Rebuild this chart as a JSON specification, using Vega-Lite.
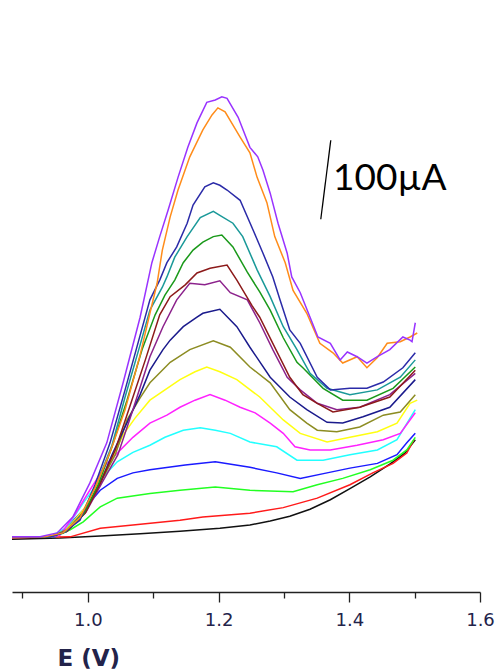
{
"$schema":"https://vega.github.io/schema/vega-lite/v6.json",
"width":468,"height":572,
"autosize":{"type":"none"},
"padding":{"left":12,"top":20,"right":17,"bottom":78},
"background":"white",
"config":{"view":{"stroke":null}},
"layer":[
{"data":{"values":[
{"s":"s01","E":0.884,"I":1},{"s":"s01","E":0.957,"I":2.5},{"s":"s01","E":1.019,"I":5},{"s":"s01","E":1.080,"I":8},{"s":"s01","E":1.141,"I":11},{"s":"s01","E":1.202,"I":15},{"s":"s01","E":1.248,"I":19},{"s":"s01","E":1.279,"I":24},{"s":"s01","E":1.309,"I":30},{"s":"s01","E":1.340,"I":39},{"s":"s01","E":1.371,"I":51},{"s":"s01","E":1.401,"I":65},{"s":"s01","E":1.432,"I":80},{"s":"s01","E":1.462,"I":96},{"s":"s01","E":1.485,"I":110},{"s":"s01","E":1.501,"I":127},
{"s":"s02","E":0.884,"I":3},{"s":"s02","E":0.973,"I":4},{"s":"s02","E":1.019,"I":15},{"s":"s02","E":1.069,"I":19},{"s":"s02","E":1.141,"I":25},{"s":"s02","E":1.176,"I":29},{"s":"s02","E":1.248,"I":34},{"s":"s02","E":1.299,"I":41},{"s":"s02","E":1.351,"I":53},{"s":"s02","E":1.401,"I":70},{"s":"s02","E":1.436,"I":85},{"s":"s02","E":1.467,"I":97},{"s":"s02","E":1.488,"I":110},{"s":"s02","E":1.499,"I":127},
{"s":"s03","E":0.884,"I":4},{"s":"s03","E":0.950,"I":4},{"s":"s03","E":0.973,"I":13},{"s":"s03","E":0.993,"I":23},{"s":"s03","E":1.019,"I":42},{"s":"s03","E":1.045,"I":53},{"s":"s03","E":1.095,"I":59},{"s":"s03","E":1.141,"I":63},{"s":"s03","E":1.195,"I":67},{"s":"s03","E":1.248,"I":63},{"s":"s03","E":1.314,"I":61},{"s":"s03","E":1.351,"I":70},{"s":"s03","E":1.390,"I":78},{"s":"s03","E":1.432,"I":89},{"s":"s03","E":1.467,"I":101},{"s":"s03","E":1.488,"I":114},{"s":"s03","E":1.501,"I":130},
{"s":"s04","E":0.884,"I":4},{"s":"s04","E":0.950,"I":4},{"s":"s04","E":0.968,"I":16},{"s":"s04","E":0.993,"I":38},{"s":"s04","E":1.019,"I":63},{"s":"s04","E":1.045,"I":78},{"s":"s04","E":1.069,"I":85},{"s":"s04","E":1.095,"I":89},{"s":"s04","E":1.149,"I":95},{"s":"s04","E":1.195,"I":99},{"s":"s04","E":1.248,"I":92},{"s":"s04","E":1.289,"I":85},{"s":"s04","E":1.325,"I":78},{"s":"s04","E":1.366,"I":85},{"s":"s04","E":1.401,"I":91},{"s":"s04","E":1.443,"I":97},{"s":"s04","E":1.473,"I":108},{"s":"s04","E":1.488,"I":123},{"s":"s04","E":1.501,"I":135},
{"s":"s05","E":0.884,"I":4},{"s":"s05","E":0.942,"I":4},{"s":"s05","E":0.968,"I":16},{"s":"s05","E":0.993,"I":47},{"s":"s05","E":1.019,"I":76},{"s":"s05","E":1.045,"I":99},{"s":"s05","E":1.069,"I":111},{"s":"s05","E":1.095,"I":120},{"s":"s05","E":1.118,"I":130},{"s":"s05","E":1.146,"I":139},{"s":"s05","E":1.172,"I":142},{"s":"s05","E":1.195,"I":139},{"s":"s05","E":1.218,"I":135},{"s":"s05","E":1.248,"I":124},{"s":"s05","E":1.289,"I":118},{"s":"s05","E":1.320,"I":101},{"s":"s05","E":1.360,"I":101},{"s":"s05","E":1.401,"I":108},{"s":"s05","E":1.443,"I":114},{"s":"s05","E":1.473,"I":127},{"s":"s05","E":1.501,"I":165},
{"s":"s06","E":0.884,"I":4},{"s":"s06","E":0.942,"I":4},{"s":"s06","E":0.957,"I":6},{"s":"s06","E":0.980,"I":32},{"s":"s06","E":1.003,"I":63},{"s":"s06","E":1.029,"I":97},{"s":"s06","E":1.045,"I":110},{"s":"s06","E":1.069,"I":130},{"s":"s06","E":1.095,"I":148},{"s":"s06","E":1.121,"I":158},{"s":"s06","E":1.141,"I":168},{"s":"s06","E":1.164,"I":177},{"s":"s06","E":1.187,"I":184},{"s":"s06","E":1.210,"I":177},{"s":"s06","E":1.233,"I":168},{"s":"s06","E":1.256,"I":161},{"s":"s06","E":1.279,"I":148},{"s":"s06","E":1.299,"I":135},{"s":"s06","E":1.317,"I":118},{"s":"s06","E":1.340,"I":114},{"s":"s06","E":1.371,"I":114},{"s":"s06","E":1.412,"I":120},{"s":"s06","E":1.452,"I":127},{"s":"s06","E":1.478,"I":135},{"s":"s06","E":1.501,"I":161},
{"s":"s07","E":0.884,"I":4},{"s":"s07","E":0.942,"I":4},{"s":"s07","E":0.965,"I":11},{"s":"s07","E":0.993,"I":38},{"s":"s07","E":1.014,"I":70},{"s":"s07","E":1.034,"I":99},{"s":"s07","E":1.054,"I":133},{"s":"s07","E":1.072,"I":154},{"s":"s07","E":1.095,"I":177},{"s":"s07","E":1.118,"I":190},{"s":"s07","E":1.141,"I":203},{"s":"s07","E":1.164,"I":213},{"s":"s07","E":1.182,"I":219},{"s":"s07","E":1.202,"I":213},{"s":"s07","E":1.228,"I":203},{"s":"s07","E":1.263,"I":181},{"s":"s07","E":1.299,"I":152},{"s":"s07","E":1.325,"I":135},{"s":"s07","E":1.366,"I":124},{"s":"s07","E":1.401,"I":130},{"s":"s07","E":1.443,"I":137},{"s":"s07","E":1.473,"I":148},{"s":"s07","E":1.493,"I":173},{"s":"s07","E":1.504,"I":177},
{"s":"s08","E":0.884,"I":4},{"s":"s08","E":0.942,"I":4},{"s":"s08","E":0.968,"I":13},{"s":"s08","E":0.996,"I":38},{"s":"s08","E":1.019,"I":72},{"s":"s08","E":1.042,"I":108},{"s":"s08","E":1.060,"I":152},{"s":"s08","E":1.080,"I":180},{"s":"s08","E":1.095,"I":199},{"s":"s08","E":1.126,"I":225},{"s":"s08","E":1.156,"I":241},{"s":"s08","E":1.192,"I":252},{"s":"s08","E":1.218,"I":244},{"s":"s08","E":1.248,"I":219},{"s":"s08","E":1.279,"I":199},{"s":"s08","E":1.309,"I":165},{"s":"s08","E":1.335,"I":148},{"s":"s08","E":1.351,"I":139},{"s":"s08","E":1.381,"I":137},{"s":"s08","E":1.416,"I":143},{"s":"s08","E":1.452,"I":158},{"s":"s08","E":1.478,"I":162},{"s":"s08","E":1.501,"I":184},
{"s":"s09","E":0.884,"I":4},{"s":"s09","E":0.942,"I":4},{"s":"s09","E":0.968,"I":11},{"s":"s09","E":0.997,"I":38},{"s":"s09","E":1.019,"I":72},{"s":"s09","E":1.037,"I":108},{"s":"s09","E":1.062,"I":152},{"s":"s09","E":1.080,"I":184},{"s":"s09","E":1.095,"I":215},{"s":"s09","E":1.115,"I":241},{"s":"s09","E":1.126,"I":253},{"s":"s09","E":1.146,"I":270},{"s":"s09","E":1.167,"I":282},{"s":"s09","E":1.176,"I":287},{"s":"s09","E":1.202,"I":292},{"s":"s09","E":1.228,"I":270},{"s":"s09","E":1.248,"I":244},{"s":"s09","E":1.279,"I":206},{"s":"s09","E":1.309,"I":181},{"s":"s09","E":1.335,"I":165},{"s":"s09","E":1.366,"I":149},{"s":"s09","E":1.390,"I":148},{"s":"s09","E":1.421,"I":156},{"s":"s09","E":1.462,"I":168},{"s":"s09","E":1.501,"I":203},
{"s":"s10","E":0.884,"I":4},{"s":"s10","E":0.942,"I":4},{"s":"s10","E":0.968,"I":11},{"s":"s10","E":0.997,"I":35},{"s":"s10","E":1.022,"I":73},{"s":"s10","E":1.046,"I":108},{"s":"s10","E":1.069,"I":165},{"s":"s10","E":1.095,"I":232},{"s":"s10","E":1.115,"I":270},{"s":"s10","E":1.136,"I":304},{"s":"s10","E":1.156,"I":325},{"s":"s10","E":1.179,"I":323},{"s":"s10","E":1.202,"I":328},{"s":"s10","E":1.218,"I":313},{"s":"s10","E":1.244,"I":304},{"s":"s10","E":1.263,"I":275},{"s":"s10","E":1.283,"I":241},{"s":"s10","E":1.305,"I":206},{"s":"s10","E":1.325,"I":190},{"s":"s10","E":1.351,"I":173},{"s":"s10","E":1.381,"I":165},{"s":"s10","E":1.416,"I":168},{"s":"s10","E":1.462,"I":184},{"s":"s10","E":1.501,"I":211},
{"s":"s11","E":0.884,"I":4},{"s":"s11","E":0.942,"I":4},{"s":"s11","E":0.968,"I":11},{"s":"s11","E":0.996,"I":34},{"s":"s11","E":1.019,"I":72},{"s":"s11","E":1.042,"I":114},{"s":"s11","E":1.065,"I":171},{"s":"s11","E":1.088,"I":228},{"s":"s11","E":1.110,"I":285},{"s":"s11","E":1.126,"I":308},{"s":"s11","E":1.149,"I":323},{"s":"s11","E":1.167,"I":338},{"s":"s11","E":1.187,"I":344},{"s":"s11","E":1.213,"I":348},{"s":"s11","E":1.228,"I":329},{"s":"s11","E":1.251,"I":297},{"s":"s11","E":1.263,"I":282},{"s":"s11","E":1.283,"I":249},{"s":"s11","E":1.309,"I":206},{"s":"s11","E":1.329,"I":184},{"s":"s11","E":1.351,"I":173},{"s":"s11","E":1.375,"I":162},{"s":"s11","E":1.416,"I":168},{"s":"s11","E":1.462,"I":181},{"s":"s11","E":1.501,"I":215},
{"s":"s12","E":0.884,"I":4},{"s":"s12","E":0.942,"I":4},{"s":"s12","E":0.965,"I":10},{"s":"s12","E":0.993,"I":32},{"s":"s12","E":1.016,"I":70},{"s":"s12","E":1.037,"I":118},{"s":"s12","E":1.060,"I":177},{"s":"s12","E":1.083,"I":241},{"s":"s12","E":1.103,"I":285},{"s":"s12","E":1.118,"I":310},{"s":"s12","E":1.133,"I":329},{"s":"s12","E":1.146,"I":351},{"s":"s12","E":1.161,"I":367},{"s":"s12","E":1.176,"I":377},{"s":"s12","E":1.192,"I":384},{"s":"s12","E":1.205,"I":386},{"s":"s12","E":1.222,"I":371},{"s":"s12","E":1.244,"I":339},{"s":"s12","E":1.263,"I":314},{"s":"s12","E":1.279,"I":291},{"s":"s12","E":1.299,"I":256},{"s":"s12","E":1.320,"I":225},{"s":"s12","E":1.329,"I":218},{"s":"s12","E":1.360,"I":192},{"s":"s12","E":1.390,"I":177},{"s":"s12","E":1.427,"I":177},{"s":"s12","E":1.467,"I":192},{"s":"s12","E":1.501,"I":219},
{"s":"s13","E":0.884,"I":4},{"s":"s13","E":0.942,"I":4},{"s":"s13","E":0.965,"I":10},{"s":"s13","E":0.991,"I":32},{"s":"s13","E":1.014,"I":72},{"s":"s13","E":1.037,"I":120},{"s":"s13","E":1.057,"I":181},{"s":"s13","E":1.080,"I":247},{"s":"s13","E":1.095,"I":291},{"s":"s13","E":1.114,"I":320},{"s":"s13","E":1.121,"I":333},{"s":"s13","E":1.133,"I":358},{"s":"s13","E":1.152,"I":384},{"s":"s13","E":1.172,"I":408},{"s":"s13","E":1.192,"I":416},{"s":"s13","E":1.202,"I":411},{"s":"s13","E":1.222,"I":401},{"s":"s13","E":1.237,"I":384},{"s":"s13","E":1.259,"I":342},{"s":"s13","E":1.279,"I":308},{"s":"s13","E":1.299,"I":270},{"s":"s13","E":1.320,"I":241},{"s":"s13","E":1.340,"I":211},{"s":"s13","E":1.366,"I":192},{"s":"s13","E":1.401,"I":184},{"s":"s13","E":1.443,"I":190},{"s":"s13","E":1.478,"I":206},{"s":"s13","E":1.501,"I":228},
{"s":"s14","E":0.884,"I":4},{"s":"s14","E":0.942,"I":4},{"s":"s14","E":0.962,"I":9},{"s":"s14","E":0.988,"I":25},{"s":"s14","E":1.011,"I":70},{"s":"s14","E":1.034,"I":123},{"s":"s14","E":1.057,"I":190},{"s":"s14","E":1.080,"I":259},{"s":"s14","E":1.095,"I":304},{"s":"s14","E":1.110,"I":329},{"s":"s14","E":1.121,"I":351},{"s":"s14","E":1.136,"I":371},{"s":"s14","E":1.152,"I":401},{"s":"s14","E":1.161,"I":424},{"s":"s14","E":1.179,"I":447},{"s":"s14","E":1.192,"I":452},{"s":"s14","E":1.202,"I":449},{"s":"s14","E":1.213,"I":443},{"s":"s14","E":1.233,"I":430},{"s":"s14","E":1.253,"I":392},{"s":"s14","E":1.268,"I":363},{"s":"s14","E":1.283,"I":333},{"s":"s14","E":1.294,"I":304},{"s":"s14","E":1.309,"I":266},{"s":"s14","E":1.325,"I":249},{"s":"s14","E":1.351,"I":206},{"s":"s14","E":1.371,"I":190},{"s":"s14","E":1.401,"I":192},{"s":"s14","E":1.427,"I":192},{"s":"s14","E":1.452,"I":200},{"s":"s14","E":1.482,"I":218},{"s":"s14","E":1.501,"I":237},
{"s":"s15","E":0.884,"I":4},{"s":"s15","E":0.934,"I":4},{"s":"s15","E":0.962,"I":9},{"s":"s15","E":0.988,"I":28},{"s":"s15","E":1.011,"I":66},{"s":"s15","E":1.034,"I":111},{"s":"s15","E":1.057,"I":165},{"s":"s15","E":1.080,"I":234},{"s":"s15","E":1.095,"I":287},{"s":"s15","E":1.106,"I":325},{"s":"s15","E":1.114,"I":367},{"s":"s15","E":1.126,"I":409},{"s":"s15","E":1.138,"I":443},{"s":"s15","E":1.156,"I":485},{"s":"s15","E":1.176,"I":519},{"s":"s15","E":1.190,"I":538},{"s":"s15","E":1.199,"I":547},{"s":"s15","E":1.210,"I":542},{"s":"s15","E":1.233,"I":510},{"s":"s15","E":1.248,"I":490},{"s":"s15","E":1.259,"I":459},{"s":"s15","E":1.274,"I":427},{"s":"s15","E":1.286,"I":384},{"s":"s15","E":1.302,"I":351},{"s":"s15","E":1.314,"I":316},{"s":"s15","E":1.335,"I":287},{"s":"s15","E":1.355,"I":249},{"s":"s15","E":1.375,"I":237},{"s":"s15","E":1.390,"I":224},{"s":"s15","E":1.412,"I":232},{"s":"s15","E":1.427,"I":218},{"s":"s15","E":1.443,"I":231},{"s":"s15","E":1.458,"I":249},{"s":"s15","E":1.478,"I":251},{"s":"s15","E":1.493,"I":257},{"s":"s15","E":1.504,"I":262},
{"s":"s16","E":0.884,"I":4},{"s":"s16","E":0.927,"I":4},{"s":"s16","E":0.953,"I":9},{"s":"s16","E":0.977,"I":29},{"s":"s16","E":1.003,"I":72},{"s":"s16","E":1.029,"I":123},{"s":"s16","E":1.054,"I":199},{"s":"s16","E":1.080,"I":282},{"s":"s16","E":1.098,"I":351},{"s":"s16","E":1.110,"I":384},{"s":"s16","E":1.123,"I":418},{"s":"s16","E":1.138,"I":459},{"s":"s16","E":1.153,"I":497},{"s":"s16","E":1.167,"I":528},{"s":"s16","E":1.182,"I":554},{"s":"s16","E":1.195,"I":557},{"s":"s16","E":1.205,"I":561},{"s":"s16","E":1.213,"I":559},{"s":"s16","E":1.230,"I":535},{"s":"s16","E":1.248,"I":497},{"s":"s16","E":1.260,"I":485},{"s":"s16","E":1.268,"I":468},{"s":"s16","E":1.279,"I":439},{"s":"s16","E":1.291,"I":401},{"s":"s16","E":1.305,"I":363},{"s":"s16","E":1.312,"I":333},{"s":"s16","E":1.325,"I":313},{"s":"s16","E":1.340,"I":282},{"s":"s16","E":1.352,"I":257},{"s":"s16","E":1.371,"I":249},{"s":"s16","E":1.386,"I":228},{"s":"s16","E":1.397,"I":238},{"s":"s16","E":1.412,"I":232},{"s":"s16","E":1.427,"I":224},{"s":"s16","E":1.443,"I":232},{"s":"s16","E":1.462,"I":241},{"s":"s16","E":1.482,"I":257},{"s":"s16","E":1.493,"I":253},{"s":"s16","E":1.496,"I":251},{"s":"s16","E":1.501,"I":275}
]},
"mark":{"type":"line","strokeWidth":1.5},
"encoding":{
"x":{"field":"E","type":"quantitative","scale":{"domain":[0.884,1.6],"nice":false,"zero":false},
"axis":{"values":[0.9,1.0,1.1,1.2,1.3,1.4,1.5,1.6],"grid":false,
"tickSize":{"condition":{"test":"round(datum.value*10)%2==0","value":10},"value":6},
"labelExpr":"round(datum.value*10)%2==0 ? format(datum.value,'.1f') : ''",
"labelFont":"DejaVu Sans","labelFontSize":18,"labelColor":"#23234a","labelPadding":9,"labelOverlap":false,"labelFlush":false,
"domainColor":"#222222","domainWidth":1.3,"tickColor":"#222222","tickWidth":1.3,
"title":"E (V)","titleFont":"DejaVu Sans","titleFontSize":23,"titleFontWeight":"bold","titleColor":"#23234a",
"titleAlign":"left","titleAnchor":"start","titleX":45,"titleY":73,"titleBaseline":"alphabetic"}},
"y":{"field":"I","type":"quantitative","scale":{"domain":[-65.8,658.2],"nice":false,"zero":false},"axis":null},
"color":{"field":"s","type":"nominal","legend":null,"scale":{
"domain":["s01","s02","s03","s04","s05","s06","s07","s08","s09","s10","s11","s12","s13","s14","s15","s16"],
"range":["#111111","#FF1A1A","#22FF22","#1A1AFF","#22FFFF","#FF22FF","#FFFF11","#8C8C22","#1A1A8C","#8C228C","#8C1A1A","#1A991A","#1A9999","#2B2BA8","#FF8C1A","#9933FF"]}}
}},
{"data":{"values":[{"E":1.3564,"I":406,"E2":1.3717,"I2":506}]},
"mark":{"type":"rule","color":"#000000","strokeWidth":1.3},
"encoding":{"x":{"field":"E","type":"quantitative"},"y":{"field":"I","type":"quantitative"},"x2":{"field":"E2"},"y2":{"field":"I2"}}},
{"data":{"values":[{"E":1.3752,"I":443,"t":"100µA"}]},
"mark":{"type":"text","font":"Lato","fontSize":37,"align":"left","baseline":"alphabetic","color":"#000000"},
"encoding":{"x":{"field":"E","type":"quantitative"},"y":{"field":"I","type":"quantitative"},"text":{"field":"t"}}}
]
}
